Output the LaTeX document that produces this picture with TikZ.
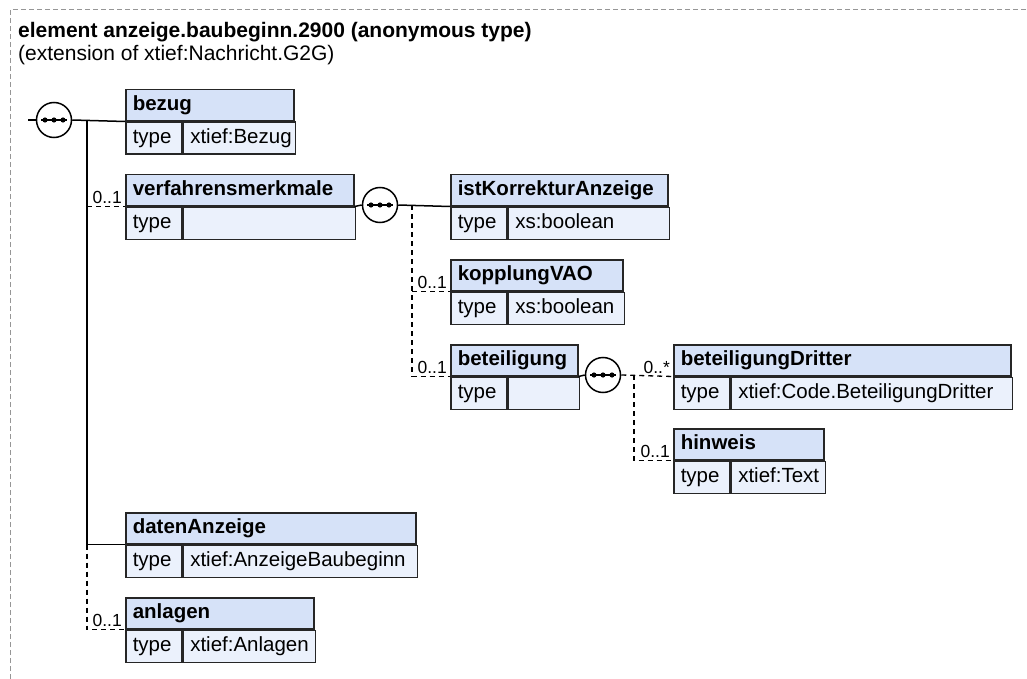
\documentclass[tikz,border=0pt]{standalone}
\usepackage{fontspec}
\setmainfont{Liberation Sans}
\definecolor{hdrblue}{RGB}{214,226,248}
\definecolor{cellblue}{RGB}{235,241,252}
\definecolor{framegray}{RGB}{150,150,150}

% element box: name, x, y (top left), width, title, type
\newcommand\elem[6]{%
  \pgfmathsetmacro\hw{#4-14}%
  \pgfmathsetmacro\vw{#4-70}%
  \node[hdr,text width=\hw pt] (#1) at (#2,#3) {#5};
  \node[cell,text width=42pt] (#1-t) at (#1.south west) {type};
  \node[cell,text width=\vw pt] (#1-v) at (#1-t.north east) {#6};
}
% sequence compositor: name, position
\newcommand\seq[2]{%
  \node[seqc] (#1) at (#2) {};
  \draw[conn] ([xshift=-13pt]#1.center) -- ([xshift=13pt]#1.center);
  \foreach \d in {-9,0,9}
    \fill ([xshift=\d pt]#1.center) circle (2.6pt);
}

\begin{document}
\begin{tikzpicture}[x=1pt,y=-1pt,
    hdr/.style={draw=black!85,line width=1.5pt,fill=hdrblue,anchor=north west,
      minimum height=31pt,inner xsep=7pt,inner ysep=0pt,text height=15pt,text depth=4pt,
      align=left,font=\fontsize{20.5}{24}\selectfont\bfseries},
    cell/.style={draw=black!85,line width=1.5pt,fill=cellblue,anchor=north west,
      minimum height=32pt,inner xsep=7pt,inner ysep=0pt,text height=15pt,text depth=4pt,
      align=left,font=\fontsize{20.5}{24}\selectfont},
    conn/.style={line width=1.5pt},
    opt/.style={line width=1.3pt,dash pattern=on 5pt off 4pt},
    card/.style={anchor=south east,inner xsep=1pt,inner ysep=2.5pt,font=\fontsize{17.5}{20}\selectfont},
    seqc/.style={circle,draw,line width=1.5pt,fill=white,minimum size=35pt,inner sep=0pt}]
    \useasboundingbox (0,0) rectangle (1027,679);
    \draw[framegray,line width=1pt,dash pattern=on 5pt off 3pt] (10,679) -- (10,10) -- (1027,10);

    \node[anchor=base west,inner sep=0pt,font=\fontsize{21}{25}\selectfont\bfseries]
        (title) at (18,38) {element anzeige.baubeginn.2900 (anonymous type)};
    \node[anchor=base west,inner sep=0pt,font=\fontsize{21}{25}\selectfont]
        (sub) at (18,61) {(extension of xtief:Nachricht.G2G)};

    % elements
    \elem{bezug}{125}{89}{168}{bezug}{xtief:Bezug}
    \elem{vm}{125}{174}{228}{verfahrensmerkmale}{}
    \elem{ika}{450}{174}{217}{istKorrekturAnzeige}{xs:boolean}
    \elem{kop}{450}{259}{172}{kopplungVAO}{xs:boolean}
    \elem{bet}{450}{344}{127}{beteiligung}{}
    \elem{bd}{673}{344}{337}{beteiligungDritter}{xtief:Code.BeteiligungDritter}
    \elem{hin}{673}{428}{150}{hinweis}{xtief:Text}
    \elem{da}{125}{512}{290}{datenAnzeige}{xtief:AnzeigeBaubeginn}
    \elem{anl}{125}{597}{188}{anlagen}{xtief:Anlagen}

    % sequences
    \seq{s1}{54,120}
    \seq{s2}{380,205}
    \seq{s3}{603,375}
    \coordinate (in) at (28,120);
    \coordinate (t1) at (87,120);
    \coordinate (t2) at (412,205);
    \coordinate (t3) at (634,375);

    % connectors
    \draw[conn] (in) -- (s1.west);
    \draw[conn] (s1.east) -- (bezug.south west);
    \draw[conn] (t1) |- (da.south west);
    \draw[opt] (t1 |- da.south west) |- (anl.south west);
    \draw[opt] (t1 |- vm.south west) -- (vm.south west);
    \draw[conn] (vm.south east) -- (s2.west);
    \draw[conn] (s2.east) -- (ika.south west);
    \draw[opt] (t2) |- (bet.south west);
    \draw[opt] (t2 |- kop.south west) -- (kop.south west);
    \draw[conn] (bet.south east) -- (s3.west);
    \draw[opt] (s3.east) -- (bd.south west);
    \draw[opt] (t3) |- (hin.south west);

    % cardinalities
    \node[card] (c-vm) at ([xshift=-2pt]vm.south west) {0..1};
    \node[card] (c-kop) at ([xshift=-2pt]kop.south west) {0..1};
    \node[card] (c-bet) at ([xshift=-2pt]bet.south west) {0..1};
    \node[card] (c-bd) at ([xshift=-2pt]bd.south west) {0..*};
    \node[card] (c-hin) at ([xshift=-2pt]hin.south west) {0..1};
    \node[card] (c-anl) at ([xshift=-2pt]anl.south west) {0..1};
\end{tikzpicture}
\end{document}
